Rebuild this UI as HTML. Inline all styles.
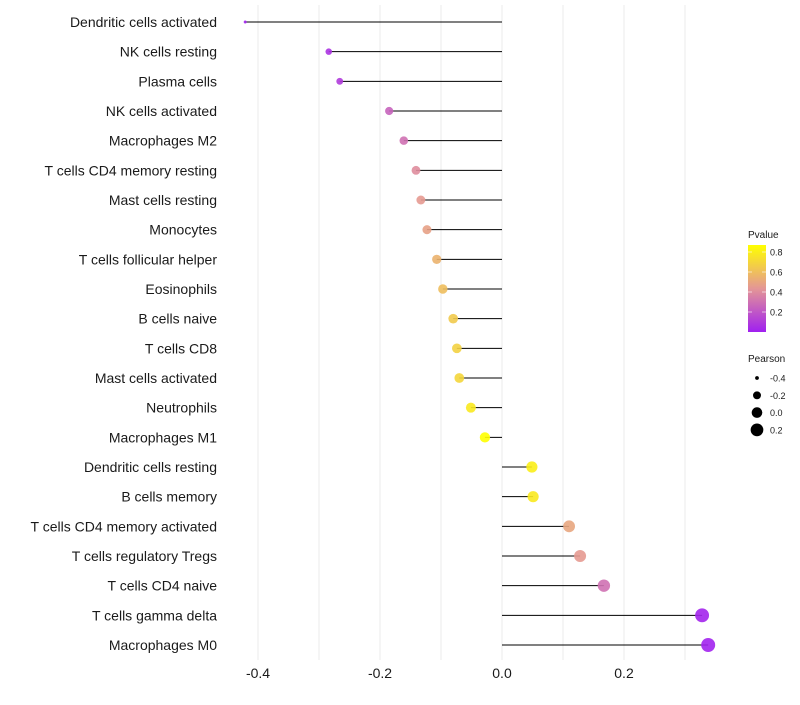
<!DOCTYPE html>
<html><head><meta charset="utf-8"><style>
body{margin:0;background:#fff;font-family:"Liberation Sans",sans-serif}
</style></head><body>
<svg id="c" width="800" height="700" xmlns="http://www.w3.org/2000/svg"></svg>
<script>
const categories=["Dendritic cells activated","NK cells resting","Plasma cells","NK cells activated","Macrophages M2","T cells CD4 memory resting","Mast cells resting","Monocytes","T cells follicular helper","Eosinophils","B cells naive","T cells CD8","Mast cells activated","Neutrophils","Macrophages M1","Dendritic cells resting","B cells memory","T cells CD4 memory activated","T cells regulatory  Tregs ","T cells CD4 naive","T cells gamma delta","Macrophages M0"];
const pearson=[-0.421,-0.284,-0.266,-0.185,-0.161,-0.141,-0.133,-0.123,-0.107,-0.097,-0.080,-0.074,-0.070,-0.051,-0.028,0.049,0.051,0.110,0.128,0.167,0.328,0.338];
const pvalue=[0.01,0.07,0.10,0.25,0.30,0.40,0.45,0.48,0.55,0.60,0.65,0.68,0.70,0.78,0.88,0.80,0.78,0.50,0.45,0.30,0.02,0.01];
const xTicks=[-0.4,-0.2,0.0,0.2];
const xGrid=[-0.4,-0.3,-0.2,-0.1,0,0.1,0.2,0.3];
const pTicks=[0.2,0.4,0.6,0.8];
const sizeLegend=[-0.4,-0.2,0.0,0.2];
const svg=document.getElementById('c');const NS="http://www.w3.org/2000/svg";
function mk(t,a,p){const e=document.createElementNS(NS,t);for(const k in a)e.setAttribute(k,a[k]);(p||svg).appendChild(e);return e;}
const xS=v=>502+v*610;
const yS=i=>22+i*(623/21);
const rS=v=>Math.sqrt(Math.max(1,28.1+61.5*v));
function col(p){const t=Math.max(0,Math.min(1,p/0.87));let a,b,u;
 if(t<0.5){a=[160,32,240];b=[228,150,150];u=t/0.5}else{a=[228,150,150];b=[255,255,0];u=(t-0.5)/0.5}
 return `rgb(${a.map((c,i)=>Math.round(c+(b[i]-c)*u)).join(',')})`;}
xGrid.forEach(v=>{const g=mk('line',{x1:xS(v),x2:xS(v),y1:5,y2:660,stroke:'#ebebeb','stroke-width':1});

});
xTicks.forEach(v=>{const t=mk('text',{x:xS(v),y:678,'text-anchor':'middle','font-size':14,fill:'#1a1a1a'});t.textContent=v.toFixed(1);

});
categories.forEach((c,i)=>{const y=yS(i);
 const l=mk('text',{x:217,y:y+5,'text-anchor':'end','font-size':14,fill:'#1a1a1a'});l.textContent=c;
 
 
 const s=mk('line',{x1:xS(0),x2:xS(pearson[i]),y1:y,y2:y,stroke:'#000','stroke-width':1});
 
 
 const d=mk('circle',{cx:xS(pearson[i]),cy:y,r:rS(pearson[i]),fill:col(pvalue[i]),'fill-opacity':0.9});
 
 });
const lt=mk('text',{x:748,y:238,'font-size':10,fill:'#1a1a1a'});lt.textContent='Pvalue';


const defs=mk('defs',{});const gr=mk('linearGradient',{id:'pg',x1:0,y1:1,x2:0,y2:0},defs);
[0,0.25,0.5,0.75,1].forEach(o=>mk('stop',{offset:o,'stop-color':col(o*0.87)},gr));
const bar=mk('rect',{x:748,y:245,width:18,height:87,fill:'url(#pg)'});


pTicks.forEach(p=>{const y=332-p*100;mk('line',{x1:748,x2:752,y1:y,y2:y,stroke:'#fff','stroke-opacity':0.6});mk('line',{x1:762,x2:766,y1:y,y2:y,stroke:'#fff','stroke-opacity':0.6});
 const t=mk('text',{x:770,y:y+3.5,'font-size':9,fill:'#1a1a1a'});t.textContent=p.toFixed(1);
 
 });
const st=mk('text',{x:748,y:362,'font-size':10,fill:'#1a1a1a'});st.textContent='Pearson';


sizeLegend.forEach((v,i)=>{const y=378+i*17.3;mk('circle',{cx:757,cy:y,r:rS(v),fill:'#000'});
 const t=mk('text',{x:770,y:y+3.5,'font-size':9,fill:'#1a1a1a'});t.textContent=v.toFixed(1);
 
 });
</script>
</body></html>
